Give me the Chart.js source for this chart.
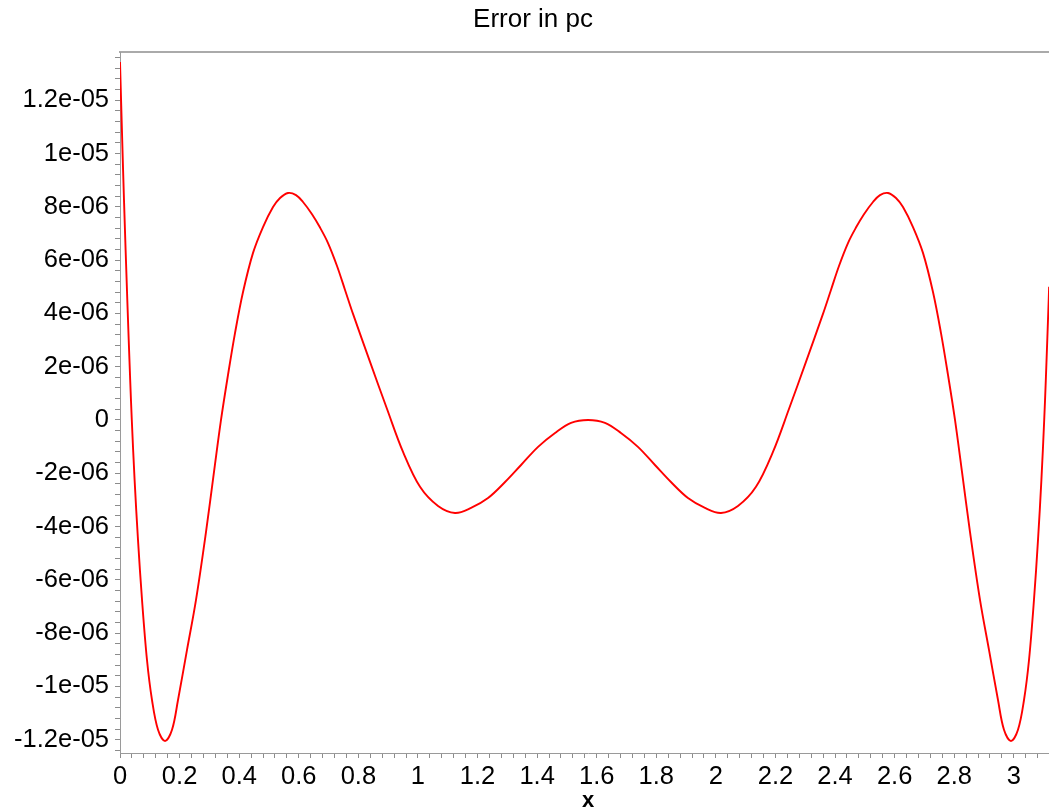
<!DOCTYPE html>
<html>
<head>
<meta charset="utf-8">
<script src="https://cdn.jsdelivr.net/npm/chart.js@4.4.1/dist/chart.umd.min.js"></script>
<style>
  html, body { margin: 0; padding: 0; background: #ffffff; overflow: hidden; width: 1049px; height: 810px; }
  #wrap { width: 1068px; height: 810px; }
</style>
</head>
<body>
<div id="wrap"><canvas id="c" width="1068" height="810"></canvas></div>
<script>
// ---- data ----
const xValues = [
  0.0000, 0.0074, 0.0134, 0.0245, 0.0342, 0.0396, 0.0490, 0.0604, 0.0739, 0.0906, 0.1074, 0.1276,
  0.1511, 0.1746, 0.1947, 0.2249, 0.2551, 0.2887, 0.3155, 0.3390, 0.3625, 0.3860, 0.4129, 0.4465,
  0.4800, 0.5136, 0.5371, 0.5640, 0.5908, 0.6143, 0.6445, 0.6714, 0.6982, 0.7284, 0.7553, 0.7821,
  0.8392, 0.8963, 0.9500, 1.0070, 1.0675, 1.1245, 1.1782, 1.2353, 1.2924, 1.3461, 1.4032, 1.4602,
  1.5139, 1.5710, 1.6277, 1.6814, 1.7384, 1.7955, 1.8492, 1.9063, 1.9634, 2.0171, 2.0741, 2.1346,
  2.1916, 2.2453, 2.3024, 2.3595, 2.3863, 2.4132, 2.4434, 2.4702, 2.4971, 2.5273, 2.5508, 2.5776,
  2.6045, 2.6280, 2.6616, 2.6951, 2.7287, 2.7556, 2.7791, 2.8026, 2.8261, 2.8529, 2.8865, 2.9167,
  2.9469, 2.9670, 2.9905, 3.0140, 3.0342, 3.0510, 3.0677, 3.0812, 3.0926, 3.1020, 3.1074, 3.1171,
  3.1185
];
const errorValues = [
  13.43e-6, 10.51e-6, 8.26e-6, 4.50e-6, 1.50e-6, 0, -2.25e-6, -4.50e-6, -6.75e-6, -9.01e-6, -10.51e-6, -11.63e-6,
  -12.05e-6, -11.63e-6, -10.51e-6, -8.63e-6, -6.75e-6, -4.20e-6, -1.95e-6, 0, 1.69e-6, 3.26e-6, 4.80e-6, 6.27e-6,
  7.24e-6, 7.99e-6, 8.33e-6, 8.52e-6, 8.44e-6, 8.18e-6, 7.72e-6, 7.22e-6, 6.64e-6, 5.78e-6, 4.88e-6, 3.98e-6,
  2.18e-6, 0.41e-6, -1.20e-6, -2.51e-6, -3.23e-6, -3.49e-6, -3.30e-6, -2.93e-6, -2.33e-6, -1.69e-6, -1.01e-6, -0.49e-6,
  -0.11e-6, 0, -0.11e-6, -0.49e-6, -1.01e-6, -1.69e-6, -2.33e-6, -2.93e-6, -3.30e-6, -3.49e-6, -3.23e-6, -2.51e-6,
  -1.20e-6, 0.41e-6, 2.18e-6, 3.98e-6, 4.88e-6, 5.78e-6, 6.64e-6, 7.22e-6, 7.72e-6, 8.18e-6, 8.44e-6, 8.52e-6,
  8.33e-6, 7.99e-6, 7.24e-6, 6.27e-6, 4.80e-6, 3.26e-6, 1.69e-6, 0, -1.95e-6, -4.20e-6, -6.75e-6, -8.63e-6,
  -10.51e-6, -11.63e-6, -12.05e-6, -11.63e-6, -10.51e-6, -9.01e-6, -6.75e-6, -4.50e-6, -2.25e-6, 0, 1.50e-6, 4.50e-6,
  5.00e-6
];
const xTickValues = [0, 0.2, 0.4, 0.6, 0.8, 1, 1.2, 1.4, 1.6, 1.8, 2, 2.2, 2.4, 2.6, 2.8, 3];
const xTickLabels = ['0', '0.2', '0.4', '0.6', '0.8', '1', '1.2', '1.4', '1.6', '1.8', '2', '2.2', '2.4', '2.6', '2.8', '3'];
const yTickValues = [1.2e-5, 1e-5, 8e-6, 6e-6, 4e-6, 2e-6, 0, -2e-6, -4e-6, -6e-6, -8e-6, -1e-5, -1.2e-5];
const yTickLabels = ['1.2e-05', '1e-05', '8e-06', '6e-06', '4e-06', '2e-06', '0', '-2e-06', '-4e-06', '-6e-06', '-8e-06', '-1e-05', '-1.2e-05'];
const titleText = 'Error in pc';
const xTitle = 'x';
const xMin = 0, xMax = Math.PI, xMinorStep = 0.04;
const yMin = -12.5e-6, yMax = 13.81e-6, yMinorStep = 0.4e-6;

// ---- chart ----
const FONT = "'Liberation Sans', Arial, Helvetica, sans-serif";
const points = xValues.map((x, i) => ({ x: x, y: errorValues[i] }));

function labelFor(values, labels, v, tol) {
  for (let i = 0; i < values.length; i++) {
    if (Math.abs(values[i] - v) < tol) return labels[i];
  }
  return '';
}

new Chart(document.getElementById('c'), {
  type: 'line',
  data: {
    datasets: [{
      data: points,
      borderColor: '#ff0000',
      borderWidth: 1.9,
      pointRadius: 0,
      fill: false,
      tension: 0.35
    }]
  },
  options: {
    responsive: false,
    animation: false,
    devicePixelRatio: 1,
    layout: { padding: { left: 10, right: 12, top: 0, bottom: 0 } },
    plugins: {
      legend: { display: false },
      tooltip: { enabled: false },
      title: {
        display: true,
        text: titleText,
        color: '#000000',
        font: { family: FONT, size: 26, weight: 'normal', lineHeight: 1.2 },
        padding: { top: 4.5, bottom: 16.3 }
      }
    },
    scales: {
      x: {
        type: 'linear',
        position: 'bottom',
        min: xMin,
        max: xMax,
        afterFit: s => { s.height = 57; },
        afterBuildTicks: s => {
          const t = [];
          for (let i = 0; i * xMinorStep <= xMax + 1e-9; i++) t.push({ value: +(i * xMinorStep).toFixed(4) });
          s.ticks = t;
        },
        ticks: {
          autoSkip: false,
          maxRotation: 0,
          padding: 4,
          color: '#000000',
          font: { family: FONT, size: 25.5, lineHeight: 1.2 },
          callback: v => labelFor(xTickValues, xTickLabels, v, 1e-6)
        },
        grid: { display: true, drawOnChartArea: false, drawTicks: true, tickLength: 5, color: '#8c8c8c' },
        border: { display: true, color: '#9a9a9a', width: 1 },
        title: {
          display: true,
          text: xTitle,
          color: '#000000',
          font: { family: FONT, size: 22, weight: 'bold', lineHeight: 0.8 },
          padding: { top: 0, bottom: 0 }
        }
      },
      x2: {
        type: 'linear',
        position: 'top',
        min: xMin,
        max: xMax,
        afterFit: s => { s.height = 0; },
        ticks: { display: false },
        grid: { display: false, drawTicks: false },
        border: { display: true, color: '#aaaaaa', width: 2 }
      },
      y: {
        type: 'linear',
        position: 'left',
        min: yMin,
        max: yMax,
        afterFit: s => { s.width = 110; },
        afterBuildTicks: s => {
          const t = [];
          for (let i = -31; i * yMinorStep <= yMax; i++) t.push({ value: i * yMinorStep });
          s.ticks = t;
        },
        ticks: {
          autoSkip: false,
          padding: 6,
          color: '#000000',
          font: { family: FONT, size: 25.5, lineHeight: 1.2 },
          callback: v => labelFor(yTickValues, yTickLabels, v, 1e-9)
        },
        grid: { display: true, drawOnChartArea: false, drawTicks: true, tickLength: 5, color: '#8c8c8c' },
        border: { display: true, color: '#9a9a9a', width: 1 }
      }
    }
  }
});
</script>
</body>
</html>
